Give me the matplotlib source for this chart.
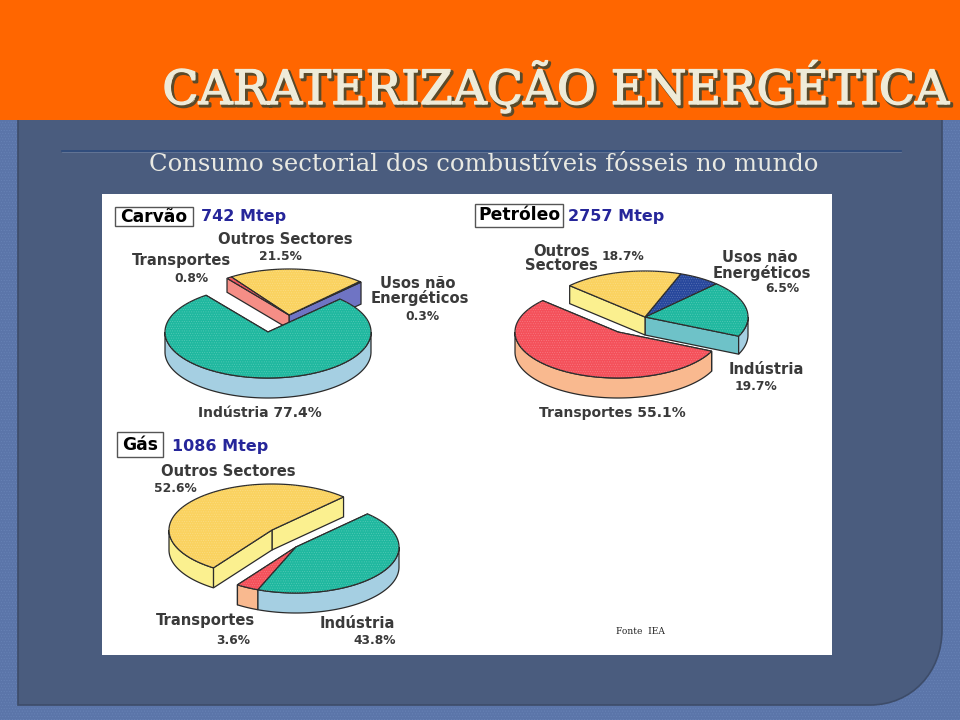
# -*- coding: utf-8 -*-

import numpy as np
import matplotlib
matplotlib.use('Agg')
import matplotlib.pyplot as plt
import matplotlib.patheffects as pe
from matplotlib.patches import Polygon, Rectangle, PathPatch
from matplotlib.path import Path


# %% ---------------------------------------------------------------------------
# data, in the order the slices go round each pie (anticlockwise)

carvao_sectors = ['Indústria', 'Usos não Energéticos', 'Outros Sectores', 'Transportes']
carvao_shares = [77.4, 0.3, 21.5, 0.8]

petroleo_sectors = ['Transportes', 'Indústria', 'Usos não Energéticos', 'Outros Sectores']
petroleo_shares = [55.1, 19.7, 6.5, 18.7]

gas_sectors = ['Outros Sectores', 'Transportes', 'Indústria']
gas_shares = [52.6, 3.6, 43.8]

fuel_names = ['Carvão', 'Petróleo', 'Gás']
fuel_totals = ['742 Mtep', '2757 Mtep', '1086 Mtep']

title_text = 'CARATERIZAÇÃO ENERGÉTICA'
subtitle_text = 'Consumo sectorial dos combustíveis fósseis no mundo'
source_text = 'Fonte  IEA'


# %% ---------------------------------------------------------------------------
# colours per sector: top face, side face

sectorColors = {
    'Indústria': ('#1FB89F', '#A5CFE2'),
    'Usos não Energéticos': ('#27479C', '#6F74C4'),
    'Outros Sectores': ('#FAD25F', '#FBF08F'),
    'Transportes': ('#F4505A', '#F9B98F'),
}

RX, RY = 103, 46


def ringPoints(cx, cy, t0, t1, dy=0):
    t = np.radians(np.linspace(t0, t1, max(int(abs(t1 - t0)), 2)))
    return np.column_stack([cx + RX*np.cos(t), cy - RY*np.sin(t) + dy])


def drawGroup(ax, sectors, shares, start, members, cx, cy, depth, sideColors={}, cutDepths={}):
    edges = start + np.cumsum([0] + list(shares))*3.6
    t_in, t_out = edges[members[0]], edges[members[-1] + 1]
    apex = np.array([[cx, cy]])
    down = np.array([[0, depth]])

    # cut faces at both ends of the group
    for t, m in ((t_in, members[0]), (t_out, members[-1])):
        rim = ringPoints(cx, cy, t, t + 1e-3)[:1]
        col = sideColors.get(sectors[m], sectorColors[sectors[m]][1])
        d = np.array([[0, cutDepths.get(sectors[m], depth)]])
        quad = np.vstack([apex, rim, rim + d, apex + d])
        ax.add_patch(Polygon(quad, fc=col, ec='#2b2b2b', lw=0.9, zorder=2))

    # outer wall, only the front half of the ellipse shows
    for m in members:
        for lo, hi in ((180, 360), (540, 720)):
            t0, t1 = max(edges[m], lo), min(edges[m + 1], hi)
            if t1 <= t0:
                continue
            top = ringPoints(cx, cy, t0, t1)
            col = sectorColors[sectors[m]][1]
            ax.add_patch(Polygon(np.vstack([top, top[::-1] + down]),
                                 fc=col, ec='#2b2b2b', lw=0.9, zorder=2))

    # top faces
    for m in members:
        pts = np.vstack([apex, ringPoints(cx, cy, edges[m], edges[m + 1])])
        ax.add_patch(Polygon(pts, fc=sectorColors[sectors[m]][0], ec='#2b2b2b',
                             lw=0.9, zorder=2))
        ax.add_patch(Polygon(pts, fill=False, ec='#ffffff', alpha=0.22, lw=0,
                             hatch='.......', zorder=2))


# %% ---------------------------------------------------------------------------

plt.rcParams['hatch.linewidth'] = 0.4

fig = plt.figure(figsize=(9.6, 7.2), dpi=100)
ax = fig.add_axes([0, 0, 1, 1])
ax.set_xlim(0, 960)
ax.set_ylim(720, 0)
ax.axis('off')

#------------------ slide background
ax.add_patch(Rectangle((0, 0), 960, 720, fc='#5B75A9', ec='#6883B6', lw=0, hatch='......'))

panelPath = Path([(18, 110), (942, 110), (942, 630), (942, 672), (912, 705), (870, 705),
                  (18, 705), (18, 110)],
                 [Path.MOVETO, Path.LINETO, Path.LINETO, Path.CURVE4, Path.CURVE4, Path.CURVE4,
                  Path.LINETO, Path.CLOSEPOLY])
ax.add_patch(PathPatch(panelPath, fc='#4A5C7E', ec='#3D4C69', lw=1.2))
ax.add_patch(Rectangle((0, 0), 960, 120, fc='#FF6600', ec='none'))

ax.plot([62, 901], [151, 151], color='#2C4A7C', lw=1.2)
ax.plot([62, 901], [152, 152], color='#6C7E9E', lw=0.5)

#------------------ headings
ax.text(950, 104, title_text, ha='right', va='baseline', family='DejaVu Serif',
        fontsize=34, color='#EFEBD8',
        path_effects=[pe.Stroke(linewidth=2.2, foreground='#5A4A2A', offset=(1.5, -1.5)),
                      pe.Stroke(linewidth=1.0, foreground='#EFEBD8'),
                      pe.Normal()])
ax.text(483.5, 171, subtitle_text, ha='center', va='baseline', family='DejaVu Serif',
        fontsize=17.5, color='#E9E9E2')

#------------------ white picture
ax.add_patch(Rectangle((102, 194), 730, 461, fc='white', ec='none'))

drawGroup(ax, carvao_sectors, carvao_shares, 127, [1, 2, 3], 289, 315, 14,
          sideColors={'Transportes': '#F58E86'}, cutDepths={'Usos não Energéticos': 22})
drawGroup(ax, carvao_sectors, carvao_shares, 127, [0], 268, 332, 20)

drawGroup(ax, petroleo_sectors, petroleo_shares, 137, [0], 618, 332, 20)
drawGroup(ax, petroleo_sectors, petroleo_shares, 137, [1, 2, 3], 645, 317, 18,
          sideColors={'Indústria': '#6EC2C8'})

drawGroup(ax, gas_sectors, gas_shares, 46, [0], 272, 530, 20)
drawGroup(ax, gas_sectors, gas_shares, 46, [1, 2], 296, 547, 20)

#------------------ labels
labelTexts = ['Outros Sectores', '21.5%', 'Transportes', '0.8%', 'Usos não', 'Energéticos', '0.3%',
              'Indústria 77.4%',
              'Outros', 'Sectores', '18.7%', 'Usos não', 'Energéticos', '6.5%', 'Indústria',
              '19.7%', 'Transportes 55.1%',
              'Outros Sectores', '52.6%', 'Transportes', '3.6%', 'Indústria', '43.8%']
labelX = [285, 280, 182, 191, 418, 420, 422, 260,
          562, 561, 623, 760, 762, 782, 766, 756, 612,
          228, 175, 205, 233, 357, 375]
labelY = [240, 256, 260, 278, 283, 298, 317, 413,
          251, 265, 257, 257, 273, 288, 370, 387, 413,
          472, 489, 621, 641, 624, 640]

for txt, x, y in zip(labelTexts, labelX, labelY):
    if txt.endswith('%'):
        # the numbers are narrower than the names, 'Sector 00.0%' lines sit in between
        size = 8.8 if ' ' not in txt else 10
    else:
        size = 10.6
    ax.text(x, y, txt, family='DejaVu Sans', weight='bold', fontsize=size, color='#3a3a3a',
            ha='center', va='center')

#------------------ fuel headers
boxX = [115, 475, 117]
boxY = [207, 204, 432]
boxW = [78, 88, 46]
boxH = [19, 23, 25]
totalX = [201, 568, 172]
totalY = [216, 216, 446]

for i in range(3):
    ax.add_patch(Rectangle((boxX[i], boxY[i]), boxW[i], boxH[i], fc='white', ec='#555555', lw=1))
    ax.text(boxX[i] + boxW[i]/2, boxY[i] + boxH[i]/2, fuel_names[i], ha='center', va='center',
            family='DejaVu Sans', weight='bold', fontsize=12.3, color='black')
    ax.text(totalX[i], totalY[i], fuel_totals[i], ha='left', va='center',
            family='DejaVu Sans', weight='bold', fontsize=11.5, color='#26269A')

ax.text(640, 632, source_text, ha='center', va='center', family='DejaVu Serif',
        fontsize=6.5, color='#222222')

plt.savefig('out.png', dpi=100)
